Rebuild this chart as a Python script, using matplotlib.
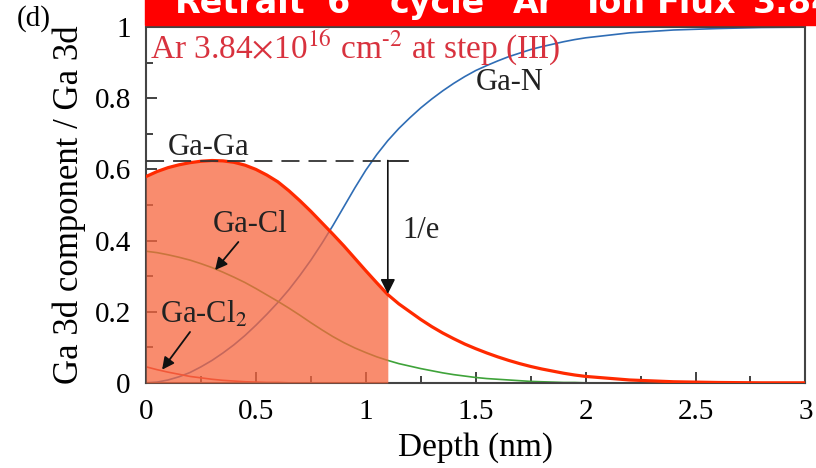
import matplotlib
matplotlib.use("Agg")
import matplotlib.pyplot as plt
import numpy as np

plt.rcParams["font.family"] = ["Liberation Serif", "DejaVu Serif"]
plt.rcParams["mathtext.fontset"] = "stix"

# values
depth = [0.00, 0.05, 0.10, 0.15, 0.20, 0.25, 0.30, 0.35, 0.40, 0.45, 0.50,
         0.55, 0.60, 0.65, 0.70, 0.75, 0.80, 0.85, 0.90, 0.95, 1.00, 1.05,
         1.10, 1.15, 1.20, 1.25, 1.30, 1.35, 1.40, 1.45, 1.50, 1.55, 1.60,
         1.65, 1.70, 1.75, 1.80, 1.85, 1.90, 1.95, 2.00, 2.2, 2.4, 2.6, 2.8,
         3.0]
ga_ga = [0.580, 0.594, 0.605, 0.613, 0.619, 0.623, 0.625, 0.624, 0.620,
         0.612, 0.600, 0.584, 0.565, 0.540, 0.512, 0.482, 0.450, 0.418,
         0.385, 0.350, 0.315, 0.281, 0.248, 0.222, 0.200, 0.178, 0.158,
         0.140, 0.124, 0.109, 0.096, 0.084, 0.073, 0.063, 0.054, 0.046,
         0.039, 0.033, 0.027, 0.022, 0.018, 0.008, 0.003, 0.001, 0.0, 0.0]
ga_n = [0.000, 0.002, 0.008, 0.017, 0.029, 0.045, 0.063, 0.084, 0.107,
        0.133, 0.162, 0.193, 0.226, 0.262, 0.302, 0.345, 0.392, 0.442,
        0.495, 0.548, 0.598, 0.642, 0.681, 0.715, 0.745, 0.773, 0.798,
        0.821, 0.842, 0.861, 0.878, 0.892, 0.905, 0.917, 0.927, 0.937,
        0.945, 0.952, 0.959, 0.965, 0.970, 0.984, 0.992, 0.996, 0.999, 1.0]
ga_cl = [0.370, 0.366, 0.360, 0.353, 0.345, 0.335, 0.324, 0.311, 0.297,
         0.282, 0.265, 0.247, 0.229, 0.210, 0.190, 0.169, 0.149, 0.130,
         0.113, 0.098, 0.085, 0.073, 0.063, 0.054, 0.047, 0.040, 0.034,
         0.028, 0.023, 0.019, 0.015, 0.012, 0.010, 0.008, 0.006, 0.004,
         0.003, 0.002, 0.001, 0.001, 0.0, 0.0, 0.0, 0.0, 0.0, 0.0]
ga_cl2 = [0.045, 0.037, 0.030, 0.024, 0.018, 0.014, 0.010, 0.007, 0.005,
          0.003, 0.002, 0.001, 0.001, 0.0, 0.0, 0.0, 0.0, 0.0, 0.0, 0.0,
          0.0, 0.0, 0.0, 0.0, 0.0, 0.0, 0.0, 0.0, 0.0, 0.0, 0.0, 0.0, 0.0,
          0.0, 0.0, 0.0, 0.0, 0.0, 0.0, 0.0, 0.0, 0.0, 0.0, 0.0, 0.0, 0.0]
peak_level = 0.625
one_over_e_depth = 1.1
arrow_end = 0.25

fig = plt.figure(figsize=(8.16, 4.68), dpi=100)
ax = fig.add_axes([0.179, 0.182, 0.808, 0.76])

x = np.array(depth)
ax.plot(x, ga_n, color="#2F6DB5", lw=1.2, zorder=2)
ax.plot(x, ga_cl, color="#3FA33A", lw=1.2, zorder=2)
ax.plot(x, ga_cl2, color="#E0302A", lw=1.2, zorder=2)
ax.fill_between(x, ga_ga, 0, where=x <= one_over_e_depth + 1e-9,
                color="#F8663E", alpha=0.75, lw=0, zorder=3)
ax.plot(x, ga_ga, color="#FF2A00", lw=2.3, zorder=4)

ax.plot([0, 1.19], [peak_level, peak_level], color="#333333", lw=1.3,
        dashes=(10, 5), zorder=5)
ax.plot([one_over_e_depth, 1.19], [peak_level, peak_level], color="#333333",
        lw=1.3, zorder=5)
ax.annotate("", xy=(one_over_e_depth, arrow_end),
            xytext=(one_over_e_depth, peak_level),
            arrowprops=dict(arrowstyle="-|>", color="#111111", lw=1.2,
                            mutation_scale=22, shrinkA=0, shrinkB=0), zorder=6)

fs = 22
ax.text(0.02, 0.912, "Ar 3.84$\\times$10$^{16}$ cm$^{\u2010 2}$ at step (III)",
        color="#D8323E", fontsize=24, zorder=7)
ax.text(1.50, 0.823, "Ga-N", fontsize=fs, color="#222222", zorder=7)
ax.text(0.10, 0.64, "Ga-Ga", fontsize=fs, color="#222222", zorder=7)
ax.text(0.305, 0.424, "Ga-Cl", fontsize=fs, color="#222222", zorder=7)
ax.text(0.064, 0.17, r"Ga-Cl$_2$", fontsize=fs, color="#222222", zorder=7)
ax.text(1.165, 0.407, "1/e", fontsize=fs, color="#222222", zorder=7)
ax.annotate("", xy=(0.314, 0.317), xytext=(0.42, 0.396),
            arrowprops=dict(arrowstyle="-|>", color="#111111", lw=1.3,
                            mutation_scale=18, shrinkA=0, shrinkB=0), zorder=7)
ax.annotate("", xy=(0.073, 0.037), xytext=(0.20, 0.143),
            arrowprops=dict(arrowstyle="-|>", color="#111111", lw=1.3,
                            mutation_scale=18, shrinkA=0, shrinkB=0), zorder=7)

ax.set_xlim(0, 3)
ax.set_ylim(0, 1)
ax.set_xticks([0, 0.5, 1, 1.5, 2, 2.5, 3])
ax.set_xticklabels(["0", "0.5", "1", "1.5", "2", "2.5", "3"])
ax.set_yticks([0, 0.2, 0.4, 0.6, 0.8, 1])
ax.set_yticklabels(["0", "0.2", "0.4", "0.6", "0.8", "1"])
ax.set_xticks(np.arange(0, 3.01, 0.25), minor=True)
ax.set_yticks(np.arange(0, 1.01, 0.1), minor=True)
ax.tick_params(which="both", direction="in", top=False, right=False,
               color="#333333", width=1.3)
ax.tick_params(which="major", length=8, labelsize=21)
ax.tick_params(axis="x", which="major", pad=12)
ax.tick_params(axis="y", which="major", pad=11)
ax.tick_params(which="minor", length=5)
for s in ax.spines.values():
    s.set_color("#444444")
    s.set_linewidth(1.5)

ax.set_xlabel("Depth (nm)", fontsize=24, labelpad=5)
ax.set_ylabel("Ga 3d component / Ga 3d", fontsize=25, labelpad=6)
fig.text(0.021, 0.989, "(d)", fontsize=21, va="top")

# red banner across the top, its text cut by the figure edge as in the source
fig.patches.append(plt.Rectangle((0.178, 0.9466), 0.83, 0.06,
                                 transform=fig.transFigure, color="#FF0000",
                                 zorder=10))
banner_words = ["Retrait", "6", "cycle", "Ar", "Ion", "Flux", "3.84"]
banner_px = [175, 327, 390, 513, 587, 657, 753]
for word, px in zip(banner_words, banner_px):
    fig.text(px / 816, 0.972, word, color="white", fontsize=24,
             fontweight="bold", family="DejaVu Sans", zorder=11)

fig.savefig("out.png", dpi=100)
